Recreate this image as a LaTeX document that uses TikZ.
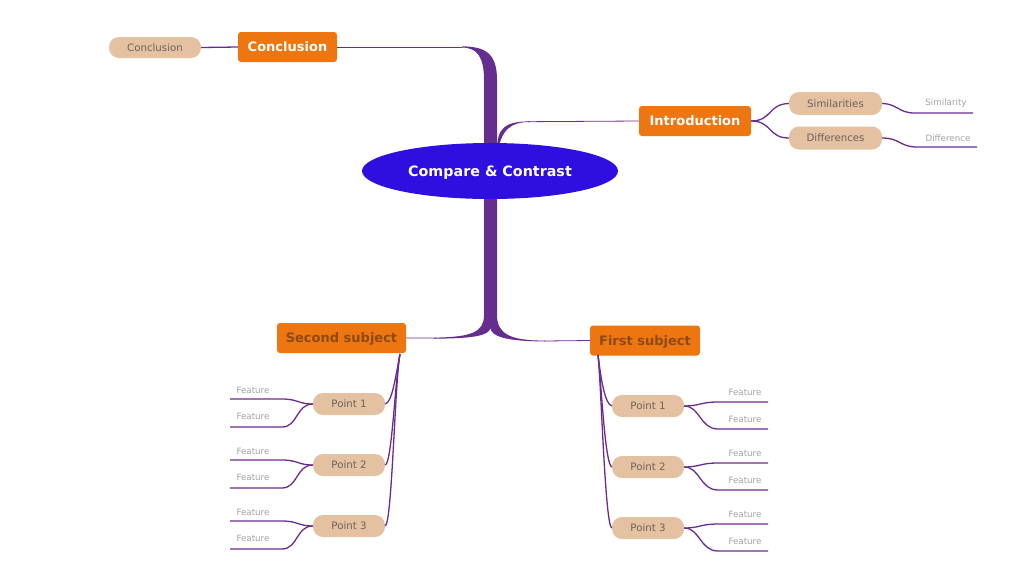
\documentclass[tikz,border=0pt]{standalone}
\usepackage{fontspec}
\setmainfont{DejaVu Sans}
\usetikzlibrary{shapes.geometric}
\definecolor{orng}{HTML}{EE7611}
\definecolor{tanc}{HTML}{E4C1A1}
\definecolor{purp}{HTML}{6A2C93}
\definecolor{trunkc}{HTML}{662D91}
\definecolor{blu}{HTML}{2E0FE0}
\definecolor{ptext}{HTML}{6F6259}
\definecolor{ftext}{HTML}{A3A3A3}
\definecolor{btext}{HTML}{8E4A12}
\begin{document}
\begin{tikzpicture}[x=1pt,y=-1pt,
  mainbox/.style={fill=orng, rounded corners=3pt, minimum height=30pt, inner sep=0pt, font=\bfseries\fontsize{13}{15}\selectfont, text=white, text height=9.5pt, text depth=0pt},
  pill/.style={fill=tanc, rounded corners=10pt, minimum height=22pt, minimum width=72pt, inner sep=0pt, text=ptext, font=\fontsize{10.2}{12}\selectfont, text height=7.5pt, text depth=0pt},
  feat/.style={text=ftext, font=\fontsize{8.7}{10}\selectfont, inner sep=0pt},
  link/.style={draw=purp, line width=1.3pt},
  thin/.style={draw=purp, line width=0.8pt},
]
\useasboundingbox[fill=white] (0,0) rectangle (1024,576);

% trunk
\fill[trunkc] (462,46.4) .. controls (486,46.4) and (497,54) .. (497,80)
  -- (497,315) .. controls (497,334) and (510,340.6) .. (545,340.6)
  -- (545,341.4) .. controls (505,341.4) and (491,336) .. (490.5,328)
  .. controls (489,335) and (476,338.6) .. (435,338.6)
  -- (435,337.6) .. controls (472,337) and (484,332) .. (484,315)
  -- (484,80) .. controls (484,58) and (478,47.6) .. (462,47.6) -- cycle;
\fill[trunkc] (497,150) .. controls (497,128) and (505,121.4) .. (530,121.4)
  -- (530,122) .. controls (512,122) and (500,128) .. (497,158) -- cycle;

% center
\node[ellipse, fill=blu, minimum width=256pt, minimum height=56pt, inner sep=0pt,
  text=white, font=\bfseries\fontsize{14.3}{16}\selectfont, text height=10.5pt, text depth=0pt] (center) at (490,171) {Compare \& Contrast};

% main topics
\node[mainbox, minimum width=99pt] (concl) at (287.5,47) {Conclusion};
\node[mainbox, minimum width=112pt] (intro) at (695,121) {Introduction};
\node[mainbox, minimum width=129pt, text=btext] (second) at (341.5,338) {Second subject};
\node[mainbox, minimum width=110pt, text=btext] (first) at (645,340.5) {First subject};

\coordinate (tTop) at (462,47);
\coordinate (tIntro) at (528,121.7);
\coordinate (tLeft) at (436,338.1);
\coordinate (tRight) at (544,341);
\draw[thin] (concl.east) -- (tTop);
\draw[thin] (tIntro) -- (intro.west);
\draw[thin] (tLeft) -- (second.east);
\draw[thin] (tRight) -- (first.west);

% conclusion sub
\node[pill, minimum width=92pt, minimum height=21pt] (csub) at (155,47.5) {Conclusion};
\draw[link] (csub.east) .. controls (220,47) and (220,47) .. (concl.west);

% introduction subs
\node[pill, minimum width=93pt, minimum height=23pt] (sim) at (835.5,103.5) {Similarities};
\node[pill, minimum width=93pt, minimum height=23pt] (dif) at (835.5,138) {Differences};
\draw[link] (intro.east) .. controls (772,121) and (768,104) .. (sim.west);
\draw[link] (intro.east) .. controls (772,121) and (768,138) .. (dif.west);
\coordinate (simA) at (915,113);
\coordinate (simB) at (973,113);
\coordinate (difA) at (917,147);
\coordinate (difB) at (977,147);
\draw[link] (sim.east) .. controls (898,104) and (898,113) .. (simA) -- (simB);
\draw[link] (dif.east) .. controls (900,138) and (900,147) .. (difA) -- (difB);
\node[feat] (simt) at (946,103) {Similarity};
\node[feat] (dift) at (948,138) {Difference};

% second subject points
\coordinate (sStart) at (400,354);
\foreach \i/\y in {1/404,2/465,3/526} {
  \node[pill] (sp\i) at (349,\y) {Point \i};
  \draw[link] (sp\i.east) .. controls (392,\y-2) and (395,380) .. (sStart);
  \coordinate (sa\i) at (282,\y-5);
  \coordinate (sb\i) at (230,\y-5);
  \coordinate (sc\i) at (282,\y+23);
  \coordinate (sd\i) at (230,\y+23);
  \draw[link] (sp\i.west) .. controls (298,\y) and (298,\y-5) .. (sa\i) -- (sb\i);
  \draw[link] (sp\i.west) .. controls (296,\y) and (298,\y+23) .. (sc\i) -- (sd\i);
  \node[feat] (sf\i a) at (253,\y-14) {Feature};
  \node[feat] (sf\i b) at (253,\y+12) {Feature};
}

% first subject points
\coordinate (fStart) at (598,355);
\foreach \i/\y in {1/406,2/467,3/528} {
  \node[pill] (fp\i) at (648,\y) {Point \i};
  \draw[link] (fp\i.west) .. controls (605,\y-2) and (601,380) .. (fStart);
  \coordinate (fa\i) at (718,\y-4);
  \coordinate (fb\i) at (768,\y-4);
  \coordinate (fc\i) at (718,\y+23);
  \coordinate (fd\i) at (768,\y+23);
  \draw[link] (fp\i.east) .. controls (700,\y) and (700,\y-4) .. (fa\i) -- (fb\i);
  \draw[link] (fp\i.east) .. controls (700,\y) and (700,\y+23) .. (fc\i) -- (fd\i);
  \node[feat] (ff\i a) at (745,\y-14) {Feature};
  \node[feat] (ff\i b) at (745,\y+13) {Feature};
}
\end{tikzpicture}
\end{document}
